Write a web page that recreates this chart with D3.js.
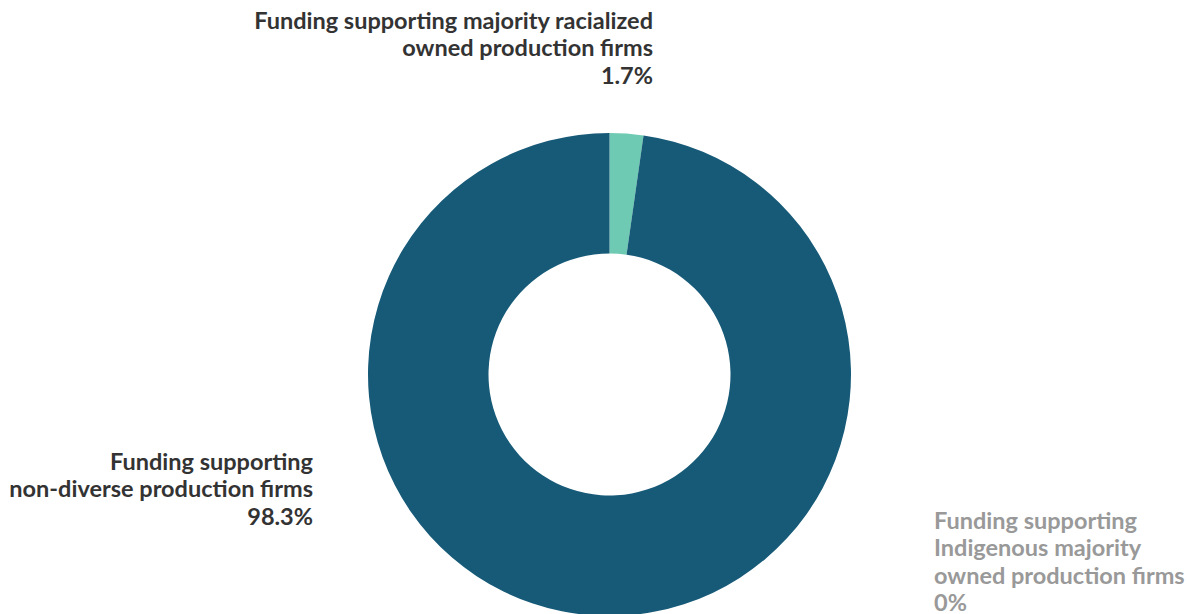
<!DOCTYPE html>
<html><head><meta charset="utf-8">
<script src="https://cdn.jsdelivr.net/npm/d3@7"></script>
<style>body{margin:0;background:#fff}svg{display:block}</style>
</head><body>
<svg id="c" width="1187" height="614"></svg>
<script>
const categories = ["Funding supporting majority racialized owned production firms", "Funding supporting non-diverse production firms", "Funding supporting Indigenous majority owned production firms"];
const shares = [2.25, 97.75, 0];           // drawn slice sizes
const labelValues = ["1.7%", "98.3%", "0%"]; // printed percentages
const labelLines = [
  ["Funding supporting majority racialized", "owned production firms"],
  ["Funding supporting", "non-diverse production firms"],
  ["Funding supporting", "Indigenous majority", "owned production firms"]
];
const colors = ["#6ecab2", "#165a78", "#cccccc"];

const svg = d3.select("#c");
const cx = 609.5, cy = 374.5, R = 241.5, r = 121;
const pie = d3.pie().sort(null).value(d => d)(shares);
const arc = d3.arc().innerRadius(r).outerRadius(R);
svg.append("g").attr("transform", `translate(${cx},${cy})`)
  .selectAll("path").data(pie).join("path")
  .attr("d", arc).attr("fill", (d, i) => colors[i]);

const font = "'Source Sans Pro','Lato',sans-serif";
const labelPos = [
  {x: 653, y: 29, anchor: "end", color: "#333333"},
  {x: 313, y: 470, anchor: "end", color: "#333333"},
  {x: 934, y: 529, anchor: "start", color: "#999999"}
];
labelLines.forEach((lines, i) => {
  const p = labelPos[i];
  const t = svg.append("text").attr("x", p.x).attr("y", p.y)
    .attr("text-anchor", p.anchor).attr("fill", p.color)
    .attr("font-family", font).attr("font-weight", 700).attr("font-size", 23.5);
  lines.concat([labelValues[i]]).forEach((s, j) => {
    t.append("tspan").attr("x", p.x).attr("dy", j === 0 ? 0 : 27.3).text(s);
  });
});
</script>
</body></html>
